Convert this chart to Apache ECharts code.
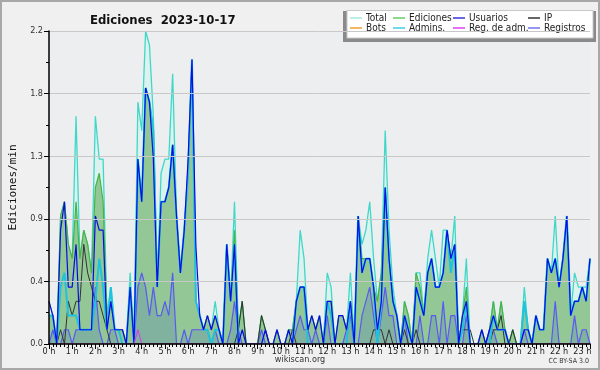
<!DOCTYPE html>
<html><head><meta charset="utf-8">
<script src="https://cdn.jsdelivr.net/npm/echarts@6/dist/echarts.min.js"></script>
<style>html,body{margin:0;padding:0;background:#f0f0f0}#c{width:600px;height:370px}</style>
</head><body><div id="c"></div>
<script>
const xTickLabels = ['0 h','1 h','2 h','3 h','4 h','5 h','6 h','7 h','8 h','9 h','10 h','11 h','12 h','13 h','14 h','15 h','16 h','17 h','18 h','19 h','20 h','21 h','22 h','23 h'];
const seriesNames = ['Total','Ediciones','Usuarios','IP','Bots','Admins.','Reg. de adm.','Registros'];

const total = [
0.3,0.2,0,0.9,1.0,0.7,0.6,1.6,0.6,0.8,
0.7,0.5,1.6,1.3,1.3,0.2,0.4,0.1,0.1,0.1,
0,0.5,0,1.7,1.5,2.2,2.1,1.6,0.4,1.2,
1.3,1.3,1.9,0.9,0.5,0.8,1.2,2.0,0.3,0.2,
0.1,0.2,0.1,0.3,0.1,0,0.7,0.3,1.0,0.1,
0.3,0,0,0,0,0.2,0.1,0,0,0.1,
0,0,0.1,0.1,0.3,0.8,0.6,0.1,0.2,0.1,
0.2,0,0.5,0.4,0,0.2,0.2,0.1,0.5,0,
0.9,0.7,0.8,1.0,0.6,0.3,0.5,1.5,0.8,0.4,
0.2,0,0.3,0.2,0,0.5,0.5,0.2,0.6,0.8,
0.6,0.4,0.8,0.8,0.6,0.9,0,0.2,0.6,0,
0,0,0.1,0,0.1,0.3,0.1,0.3,0.1,0,
0.1,0,0,0.4,0.1,0,0.2,0.1,0.1,0.6,
0.5,0.9,0.4,0.6,0.9,0.2,0.5,0.4,0.4,0.4,0.6];

const ediciones = [
0.2,0.2,0,0.9,1.0,0.7,0.6,1.0,0.6,0.8,
0.7,0.5,1.1,1.2,1.0,0.2,0.3,0.1,0.1,0.1,
0,0.4,0,1.3,1.0,1.8,1.7,1.5,0.4,1.0,
1.0,1.1,1.4,0.9,0.5,0.8,1.2,2.0,0.3,0.2,
0.1,0.2,0.1,0.2,0.1,0,0.7,0.3,0.8,0.1,
0.3,0,0,0,0,0.2,0.1,0,0,0.1,
0,0,0.1,0.1,0.3,0.4,0.4,0.1,0.2,0.1,
0.2,0,0.3,0.3,0,0.2,0.2,0.1,0.3,0,
0.9,0.6,0.6,0.6,0.4,0.3,0.5,1.1,0.6,0.3,
0.2,0,0.3,0.2,0,0.5,0.4,0.2,0.5,0.6,
0.4,0.4,0.5,0.8,0.6,0.7,0,0.2,0.4,0,
0,0,0.1,0,0.1,0.3,0.1,0.3,0.1,0,
0.1,0,0,0.3,0.1,0,0.2,0.1,0.1,0.6,
0.5,0.6,0.4,0.6,0.9,0.2,0.3,0.3,0.4,0.3,0.6];

const usuarios = [
0.3,0.2,0,0.8,1.0,0.4,0.4,0.7,0.1,0.1,
0.1,0.1,0.9,0.8,0.8,0.1,0.3,0.1,0.1,0.1,
0,0.4,0,1.3,1.0,1.8,1.7,1.3,0.4,1.0,
1.0,1.1,1.4,0.9,0.5,0.8,1.3,2.0,0.7,0.2,
0.1,0.2,0.1,0.2,0.1,0,0.7,0.3,0.7,0,
0.1,0,0,0,0,0,0.1,0,0,0.1,
0,0,0.1,0,0.3,0.4,0.4,0.1,0.2,0.1,
0.2,0,0.3,0.3,0,0.2,0.2,0.1,0.3,0,
0.9,0.5,0.6,0.6,0.4,0.1,0.3,1.1,0.6,0.3,
0.2,0,0.2,0.1,0,0.4,0.3,0.2,0.5,0.6,
0.4,0.4,0.5,0.8,0.6,0.7,0,0.2,0.3,0,
0,0,0.1,0,0.1,0.2,0.1,0.1,0.1,0,
0,0,0,0.1,0.1,0,0.2,0.1,0.1,0.6,
0.5,0.6,0.4,0.6,0.9,0.2,0.3,0.3,0.4,0.3,0.6];

const ip = [
0,0,0,0.1,0,0.3,0.2,0.3,0.3,0.7,
0.5,0.4,0.3,0.3,0.2,0.1,0,0,0,0,
0,0,0,0,0,0,0,0,0,0,
0,0,0,0,0,0,0,0,0,0,
0,0,0,0,0,0,0,0,0,0.1,
0.3,0,0,0,0,0.2,0.1,0,0,0,
0,0,0,0.1,0,0,0,0,0,0,
0,0,0,0,0,0,0,0,0,0,
0,0,0,0,0.1,0.1,0.1,0,0.1,0,
0,0,0.1,0,0,0.1,0,0,0,0,
0,0,0,0,0,0,0,0.1,0.1,0.1,
0,0,0,0,0,0.1,0.1,0.2,0,0,
0.1,0,0,0,0,0,0,0,0,0,
0,0,0,0,0,0,0,0,0,0,0];

const bots = [
0,0,0,0,0,0,0,0,0,0, 0,0,0,0,0,0,0,0,0,0, 0,0,0,0,0,0,0,0,0,0,
0,0,0,0,0,0,0,0,0,0, 0,0,0,0,0,0,0,0,0,0, 0,0,0,0,0,0,0,0,0,0,
0,0,0,0,0,0,0,0,0,0, 0,0,0,0,0,0,0,0,0,0, 0,0,0,0,0,0,0,0,0,0,
0,0,0,0,0,0,0,0,0,0, 0,0,0,0,0,0,0,0,0,0, 0,0,0,0,0,0,0,0,0,0,
0,0,0,0,0,0,0,0,0,0, 0,0,0,0,0,0,0,0,0,0,0];

const admins = [
0.2,0.2,0,0.4,0.5,0.2,0.2,0.2,0.1,0.1,
0.1,0.1,0.3,0.6,0.4,0.1,0.4,0.1,0.1,0,
0,0.4,0,1.3,1.0,1.8,1.7,1.5,0.4,1.0,
1.0,1.1,1.4,0.9,0.5,0.8,1.2,2.0,0.3,0.2,
0.1,0.1,0,0.1,0.1,0,0.7,0.3,0.7,0,
0,0,0,0,0,0,0,0,0,0,
0,0,0,0,0.3,0.4,0.4,0,0,0,
0,0,0.3,0.2,0,0,0,0,0.3,0,
0.9,0.5,0.6,0.6,0.4,0,0.3,1.1,0.6,0.3,
0.2,0,0.2,0.1,0,0.4,0.3,0.2,0.5,0.6,
0.4,0.4,0.5,0.8,0.5,0.7,0,0.1,0.3,0,
0,0,0,0,0,0.2,0.1,0.1,0.1,0,
0,0,0,0.3,0.1,0,0.2,0.1,0.1,0.6,
0.5,0.6,0.4,0.6,0.9,0.2,0.3,0.3,0.4,0.3,0.6];

const regAdm = [
0,0,0,0,0,0,0,0,0,0, 0,0,0,0,0,0,0,0,0,0, 0,0,0,0.1,0,0,0,0,0,0,
0,0,0,0,0,0,0,0,0,0, 0,0,0,0,0,0,0,0,0,0, 0,0,0,0,0,0,0,0,0,0,
0,0,0,0,0,0,0,0,0,0, 0,0,0,0,0,0,0,0,0,0, 0,0,0,0,0,0,0,0,0,0,
0,0,0,0,0,0,0,0,0,0, 0,0,0,0,0,0,0,0,0,0, 0,0,0,0,0,0,0,0,0,0,
0,0,0,0,0,0,0,0,0,0, 0,0,0,0,0,0,0,0,0,0,0];

const registros = [
0,0.1,0,0,0.1,0.1,0,0.1,0.1,0.1,
0.1,0.1,0.4,0.1,0,0,0.1,0.1,0,0,
0,0,0,0.4,0.5,0.4,0.2,0.4,0.2,0.2,
0.3,0.2,0.5,0,0,0.1,0,0.1,0.1,0.1,
0.1,0.1,0,0.1,0,0,0,0.1,0.3,0.1,
0,0,0,0,0,0.1,0,0,0,0,
0,0,0,0,0.1,0.2,0.1,0.1,0,0.1,
0,0,0.2,0,0,0,0,0.1,0.2,0,
0,0.2,0.3,0.4,0.2,0,0.2,0.4,0.2,0.2,
0,0,0.2,0,0,0,0.2,0,0,0.2,
0.2,0,0.3,0,0.2,0.2,0,0,0.2,0,
0,0,0,0,0.1,0.1,0,0,0,0,
0,0,0,0.1,0,0,0,0,0,0,
0,0.3,0,0,0,0,0.2,0,0.1,0.1,0];

const FONT = "'DejaVu Sans Condensed', 'DejaVu Sans', sans-serif";
const pts = arr => arr.map((v, i) => [i, v]);

const chart = echarts.init(document.getElementById('c'), null, {renderer: 'canvas'});

const legendPos = [[350,13],[393,13],[453,13],[528,13],[350,23],[393,23],[453,23],[528,23]];
const legends = seriesNames.map((n, k) => ({
  data: [n], left: legendPos[k][0], top: legendPos[k][1], padding: 0, itemGap: 0,
  icon: 'rect', itemWidth: 12, itemHeight: 1.5, selectedMode: false,
  textStyle: {fontSize: 10, fontFamily: FONT, color: '#222', padding: [0,0,0,-1]}
}));

function line(name, data, color, legendColor, width, z, area) {
  const s = {
    name, type: 'line', data: pts(data), symbol: 'none', z,
    lineStyle: {color, width}, itemStyle: {color: legendColor},
    emphasis: {disabled: true}
  };
  if (area) s.areaStyle = {color: area, opacity: 1};
  return s;
}

chart.setOption({
  animation: false,
  backgroundColor: '#f0f0f0',
  title: {text: 'Ediciones  2023-10-17', left: 85, top: 9,
    textStyle: {fontSize: 13, fontWeight: 'bold', fontFamily: FONT, color: '#111'}},
  legend: legends,
  graphic: [
    {type: 'rect', shape: {x: 1, y: 1, width: 598, height: 368}, style: {fill: 'none', stroke: '#a8a8a8', lineWidth: 2}, z: 100},
    {type: 'rect', shape: {x: 343, y: 11, width: 253, height: 31}, style: {fill: '#8a8a8a'}, z: 1},
    {type: 'rect', shape: {x: 347, y: 10.5, width: 246, height: 27.5}, style: {fill: '#ffffff', stroke: '#c8c8c8', lineWidth: 1}, z: 2},
    {type: 'text', left: 'center', top: 355, style: {text: 'wikiscan.org', fontSize: 9, fontFamily: FONT, fill: '#333'}},
    {type: 'text', right: 11, top: 358, style: {text: 'CC BY-SA 3.0', fontSize: 7, fontFamily: FONT, fill: '#333'}}
  ],
  grid: {left: 46, right: 10, top: 31, bottom: 26, show: true, backgroundColor: '#edeef0', borderWidth: 0},
  xAxis: {
    type: 'value', min: 0, max: 140, interval: 6, z: 10,
    axisLine: {show: true, lineStyle: {color: '#000', width: 1.5}},
    axisTick: {show: true, length: 5, lineStyle: {color: '#000'}},
    minorTick: {show: true, splitNumber: 6, length: 3, lineStyle: {color: '#000'}},
    splitLine: {show: false},
    axisLabel: {fontSize: 9, fontFamily: FONT, color: '#222', margin: 3, showMaxLabel: false,
      formatter: v => (v % 6 === 0 && xTickLabels[v / 6] !== undefined) ? xTickLabels[v / 6] : ''}
  },
  yAxis: {
    type: 'value', min: 0, max: 2.2, interval: 0.44, z: 10,
    name: 'Ediciones/min', nameLocation: 'middle', nameGap: 30,
    nameTextStyle: {fontSize: 11, fontFamily: "'DejaVu Sans Mono', monospace", color: '#111'},
    axisLine: {show: true, lineStyle: {color: '#000', width: 1.5}},
    axisTick: {show: true, length: 5, lineStyle: {color: '#000'}},
    minorTick: {show: true, splitNumber: 2, length: 3, lineStyle: {color: '#000'}},
    splitLine: {show: true, lineStyle: {color: '#c8c8c8', width: 1}},
    axisLabel: {fontSize: 9, fontFamily: FONT, color: '#333', margin: 6,
      formatter: v => v.toFixed(1)}
  },
  series: [
    line('Total', total, '#3fd8c8', '#a6e9e6', 1.3, 2, '#dcf2ee'),
    line('Ediciones', ediciones, '#46b446', '#66cc66', 1.2, 3, '#93c795'),
    line('Registros', registros, '#5a5af2', '#7272f0', 1.2, 4, 'rgba(60,90,200,0.2)'),
    line('Bots', bots, '#f0a030', '#f0a030', 1, 4),
    line('IP', ip, '#333333', '#333333', 1, 5),
    line('Admins.', admins, '#1ec4de', '#3ad0e2', 2, 6),
    line('Usuarios', usuarios, '#0a0ae6', '#3535e0', 1.2, 7),
    line('Reg. de adm.', regAdm, '#dd33ee', '#e040f0', 1, 8)
  ]
});
</script></body></html>
